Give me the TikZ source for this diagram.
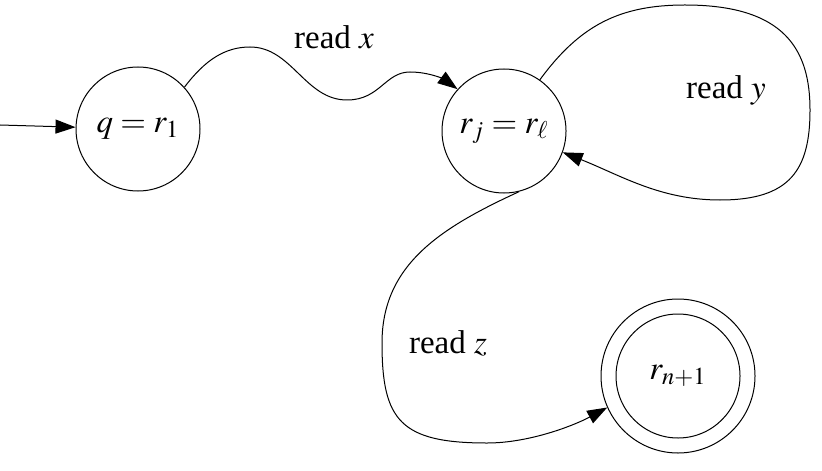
\documentclass[tikz,border=0pt]{standalone}
\usepackage{mathptmx}
\usepackage[no-math]{fontspec}
\setmainfont{Liberation Serif}
\usetikzlibrary{arrows.meta}
\begin{document}
\begin{tikzpicture}[x=0.5pt,y=-0.5pt,
  every node/.style={font=\fontsize{16.5}{19}\selectfont},
  state/.style={circle,draw,line width=0.5pt,minimum size=62pt,inner sep=0pt},
  edge/.style={line width=0.5pt,-{Triangle[length=10pt,width=7pt]}},
  lbl/.style={inner sep=0pt}]
\useasboundingbox (0,0) rectangle (822,470);
\node[state] (q) at (138,129) {$q=r_1$};
\node[state] (rj) at (504,131) {$r_j=r_\ell$};
\node[state] (rn) at (678,376) {$r_{n+1}$};
\node[circle,draw,line width=0.5pt,minimum size=77pt,inner sep=0pt] (rno) at (678,376) {};
\coordinate (s) at (0,125);
\draw[edge] (s) -- (q);
\draw[edge] (q.42) .. controls (205,60) and (225,47) .. (250,47)
  .. controls (292,47) and (305,100) .. (347,100)
  .. controls (380,100) and (385,72) .. (410,72)
  .. controls (430,72) and (445,80) .. (rj.138);
\node[lbl] (lx) at (334,37) {read $x$};
\draw[edge] (rj.55) .. controls (580,25) and (620,5) .. (685,5)
  .. controls (785,5) and (810,50) .. (810,110)
  .. controls (810,170) and (790,200) .. (720,200)
  .. controls (660,200) and (620,175) .. (rj.-20);
\node[lbl] (ly) at (726,90) {read $y$};
\draw[edge] (rj.-76) .. controls (440,228) and (382,265) .. (382,343)
  .. controls (382,420) and (400,443) .. (487,443)
  .. controls (530,443) and (575,425) .. (rno.-156);
\node[lbl] (lz) at (448,343) {read $z$};
\end{tikzpicture}
\end{document}
